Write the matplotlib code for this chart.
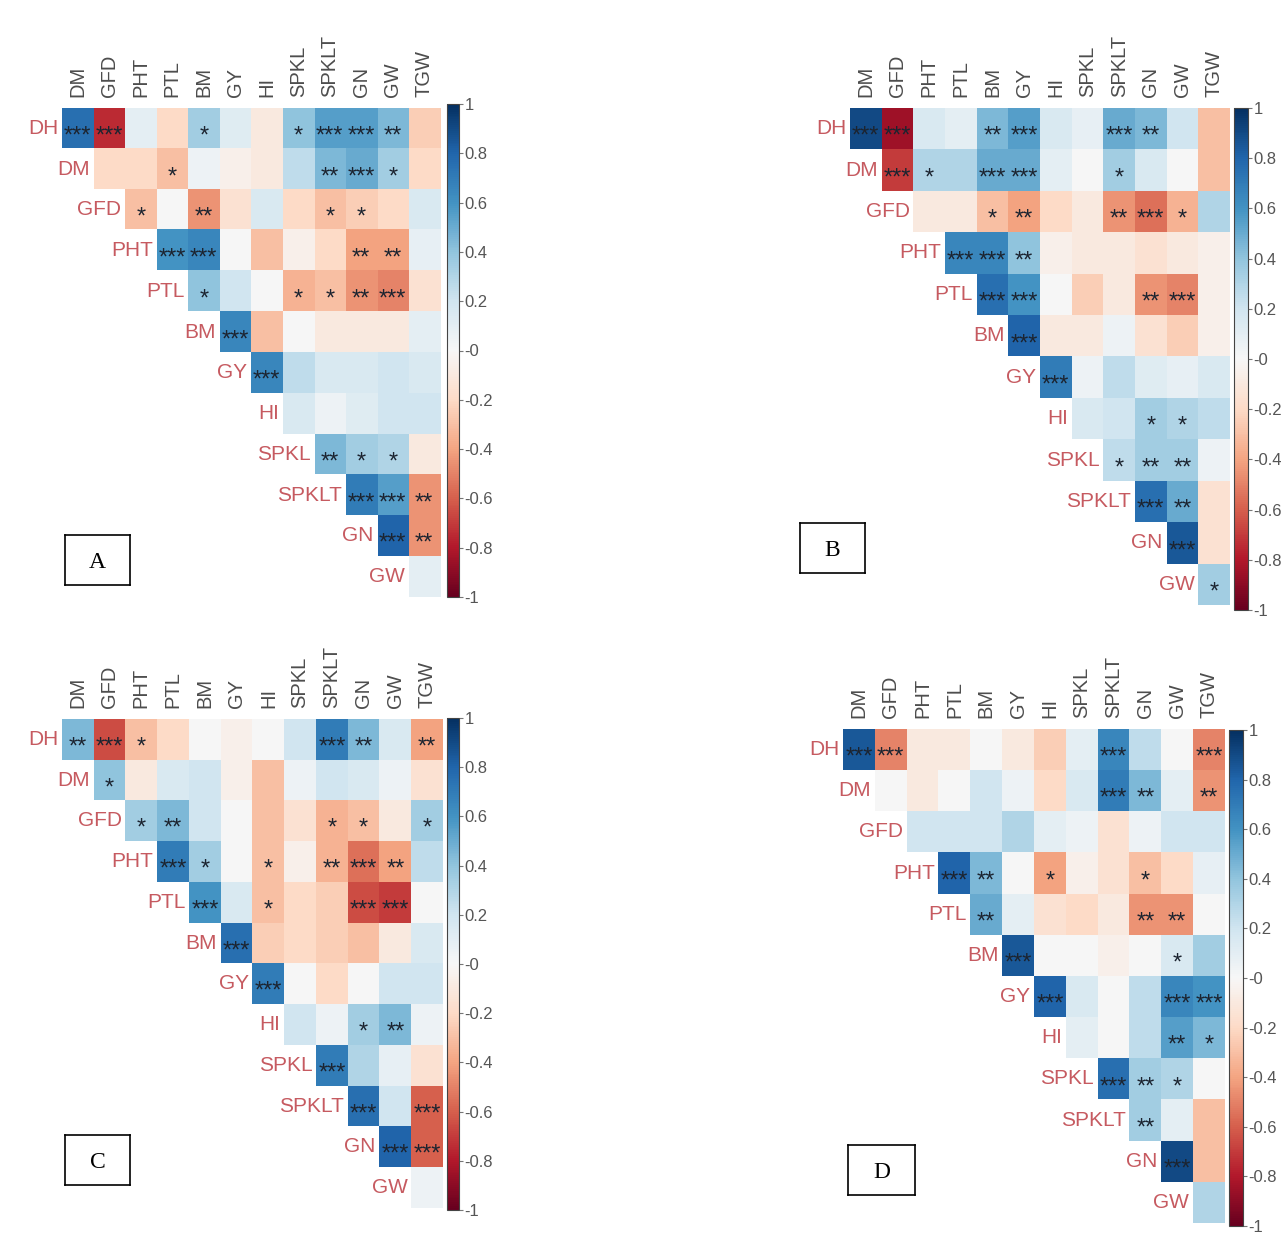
import numpy as np
import matplotlib
matplotlib.use("Agg")
import matplotlib.pyplot as plt
from matplotlib.cm import ScalarMappable
from matplotlib.colors import Normalize

plt.rcParams['font.family'] = ['Liberation Sans', 'DejaVu Sans']

row_labels = ["DH", "DM", "GFD", "PHT", "PTL", "BM", "GY", "HI", "SPKL", "SPKLT", "GN", "GW"]
col_labels = ["DM", "GFD", "PHT", "PTL", "BM", "GY", "HI", "SPKL", "SPKLT", "GN", "GW", "TGW"]

# upper triangle, row i starts at column i
r_A = [
    [0.75, -0.75, 0.10, -0.20, 0.35, 0.12, -0.10, 0.40, 0.55, 0.55, 0.45, -0.25],
    [-0.20, -0.20, -0.30, 0.05, -0.05, -0.10, 0.25, 0.45, 0.50, 0.35, -0.20],
    [-0.30, 0.00, -0.45, -0.15, 0.15, -0.20, -0.30, -0.25, -0.20, 0.15],
    [0.60, 0.65, 0.00, -0.30, -0.05, -0.20, -0.40, -0.40, 0.08],
    [0.40, 0.20, 0.00, -0.35, -0.30, -0.45, -0.50, -0.15],
    [0.65, -0.30, 0.00, -0.10, -0.10, -0.10, 0.10],
    [0.65, 0.25, 0.15, 0.15, 0.20, 0.15],
    [0.15, 0.05, 0.12, 0.20, 0.20],
    [0.45, 0.35, 0.30, -0.10],
    [0.70, 0.55, -0.45],
    [0.80, -0.45],
    [0.10],
]
s_A = [
    ["***", "***", "", "", "*", "", "", "*", "***", "***", "**", ""],
    ["", "", "*", "", "", "", "", "**", "***", "*", ""],
    ["*", "", "**", "", "", "", "*", "*", "", ""],
    ["***", "***", "", "", "", "", "**", "**", ""],
    ["*", "", "", "*", "*", "**", "***", ""],
    ["***", "", "", "", "", "", ""],
    ["***", "", "", "", "", ""],
    ["", "", "", "", ""],
    ["**", "*", "*", ""],
    ["***", "***", "**"],
    ["***", "**"],
    [""],
]

r_B = [
    [0.90, -0.85, 0.15, 0.10, 0.45, 0.55, 0.15, 0.08, 0.50, 0.45, 0.20, -0.30],
    [-0.70, 0.30, 0.30, 0.50, 0.50, 0.10, 0.00, 0.35, 0.15, 0.00, -0.30],
    [-0.10, -0.10, -0.30, -0.40, -0.20, -0.10, -0.45, -0.55, -0.35, 0.30],
    [0.65, 0.65, 0.40, -0.05, -0.10, -0.10, -0.15, -0.10, -0.05],
    [0.75, 0.60, 0.00, -0.25, -0.10, -0.45, -0.50, -0.05],
    [0.80, -0.10, -0.10, 0.05, -0.15, -0.25, -0.05],
    [0.70, 0.05, 0.25, 0.12, 0.08, 0.15],
    [0.15, 0.20, 0.35, 0.30, 0.25],
    [0.25, 0.35, 0.35, 0.05],
    [0.75, 0.50, -0.15],
    [0.85, -0.15],
    [0.35],
]
s_B = [
    ["***", "***", "", "", "**", "***", "", "", "***", "**", "", ""],
    ["***", "*", "", "***", "***", "", "", "*", "", "", ""],
    ["", "", "*", "**", "", "", "**", "***", "*", ""],
    ["***", "***", "**", "", "", "", "", "", ""],
    ["***", "***", "", "", "", "**", "***", ""],
    ["***", "", "", "", "", "", ""],
    ["***", "", "", "", "", ""],
    ["", "", "*", "*", ""],
    ["*", "**", "**", ""],
    ["***", "**", ""],
    ["***", ""],
    ["*"],
]

r_C = [
    [0.45, -0.65, -0.30, -0.20, 0.00, -0.05, 0.00, 0.20, 0.70, 0.45, 0.15, -0.40],
    [0.40, -0.10, 0.15, 0.20, -0.05, -0.30, 0.05, 0.20, 0.15, 0.05, -0.15],
    [0.35, 0.45, 0.20, 0.00, -0.30, -0.15, -0.35, -0.30, -0.10, 0.35],
    [0.70, 0.35, 0.00, -0.30, -0.05, -0.35, -0.55, -0.40, 0.25],
    [0.60, 0.15, -0.30, -0.20, -0.25, -0.65, -0.70, 0.00],
    [0.75, -0.25, -0.20, -0.25, -0.30, -0.10, 0.15],
    [0.70, 0.00, -0.20, 0.00, 0.20, 0.20],
    [0.20, 0.05, 0.35, 0.45, 0.05],
    [0.70, 0.30, 0.08, -0.15],
    [0.75, 0.20, -0.60],
    [0.80, -0.60],
    [0.05],
]
s_C = [
    ["**", "***", "*", "", "", "", "", "", "***", "**", "", "**"],
    ["*", "", "", "", "", "", "", "", "", "", ""],
    ["*", "**", "", "", "", "", "*", "*", "", "*"],
    ["***", "*", "", "*", "", "**", "***", "**", ""],
    ["***", "", "*", "", "", "***", "***", ""],
    ["***", "", "", "", "", "", ""],
    ["***", "", "", "", "", ""],
    ["", "", "*", "**", ""],
    ["***", "", "", ""],
    ["***", "", "***"],
    ["***", "***"],
    [""],
]

r_D = [
    [0.85, -0.50, -0.10, -0.10, 0.00, -0.10, -0.25, 0.10, 0.65, 0.25, 0.00, -0.50],
    [0.00, -0.10, 0.00, 0.20, 0.05, -0.20, 0.15, 0.70, 0.45, 0.10, -0.45],
    [0.20, 0.20, 0.20, 0.30, 0.10, 0.05, -0.15, 0.05, 0.20, 0.20],
    [0.80, 0.45, 0.00, -0.40, -0.05, -0.15, -0.30, -0.20, 0.08],
    [0.50, 0.10, -0.15, -0.20, -0.10, -0.45, -0.45, 0.00],
    [0.85, 0.00, 0.00, -0.05, 0.00, 0.15, 0.35],
    [0.80, 0.15, 0.00, 0.25, 0.65, 0.60],
    [0.10, 0.00, 0.25, 0.55, 0.45],
    [0.75, 0.35, 0.30, 0.00],
    [0.35, 0.10, -0.30],
    [0.90, -0.30],
    [0.30],
]
s_D = [
    ["***", "***", "", "", "", "", "", "", "***", "", "", "***"],
    ["", "", "", "", "", "", "", "***", "**", "", "**"],
    ["", "", "", "", "", "", "", "", "", ""],
    ["***", "**", "", "*", "", "", "*", "", ""],
    ["**", "", "", "", "", "**", "**", ""],
    ["***", "", "", "", "", "*"],
    ["***", "", "", "", "***", "***"],
    ["", "", "", "**", "*"],
    ["***", "**", "*", ""],
    ["**", "", ""],
    ["***", ""],
    [""],
]

W, H = 1288, 1233
fig = plt.figure(figsize=(W / 100, H / 100), dpi=100)
cmap = plt.cm.RdBu
norm = Normalize(-1, 1)


def px(x0, y0, x1, y1):
    return [x0 / W, 1 - y1 / H, (x1 - x0) / W, (y1 - y0) / H]


def panel(vals, stars, grid, cbar, box, letter):
    n = len(col_labels)
    m = np.full((n, n), np.nan)
    for i, row in enumerate(vals):
        m[i, i:] = row
    ax = fig.add_axes(px(*grid))
    ax.imshow(np.ma.masked_invalid(m), cmap=cmap, norm=norm, aspect='auto',
              interpolation='nearest')
    for i, row in enumerate(stars):
        for k, s in enumerate(row):
            if s:
                ax.text(i + k, i + 0.2, s, ha='center', va='center',
                        fontsize=17, color='#1c2430')
    for i, lab in enumerate(row_labels):
        ax.text(i - 0.62, i, lab, ha='right', va='center', fontsize=15,
                color='#c65a60')
    ax.set_xticks(range(n))
    ax.set_xticklabels(col_labels, rotation=90, fontsize=14.5, color='#4d4d4d')
    ax.xaxis.tick_top()
    ax.tick_params(length=0, pad=8)
    ax.set_yticks([])
    for sp in ax.spines.values():
        sp.set_visible(False)

    cax = fig.add_axes(px(*cbar))
    cb = fig.colorbar(ScalarMappable(norm=norm, cmap=cmap), cax=cax)
    ticks = np.round(np.arange(-1, 1.01, 0.2), 1)
    cb.set_ticks(ticks)
    cb.set_ticklabels(['%g' % t for t in ticks])
    cax.tick_params(labelsize=12, labelcolor='#555555', length=3, width=0.8,
                    color='#777777', pad=1)
    cb.outline.set_linewidth(0.8)
    cb.outline.set_edgecolor('#444444')

    bx = fig.add_axes(px(*box))
    bx.set_xticks([])
    bx.set_yticks([])
    for sp in bx.spines.values():
        sp.set_linewidth(1.2)
    bx.text(0.5, 0.45, letter, ha='center', va='center', fontsize=17,
            family='Liberation Serif', transform=bx.transAxes)


panel(r_A, s_A, (62, 108, 440, 597), (447, 104, 459, 597), (65, 535, 130, 585), "A")
panel(r_B, s_B, (850, 108, 1230, 605), (1234, 108, 1248, 610), (800, 523, 865, 573), "B")
panel(r_C, s_C, (62, 719, 443, 1208), (447, 718, 459, 1210), (65, 1135, 130, 1185), "C")
panel(r_D, s_D, (843, 729, 1225, 1223), (1229, 730, 1243, 1226), (848, 1145, 915, 1195), "D")

fig.savefig("out.png", dpi=100)
